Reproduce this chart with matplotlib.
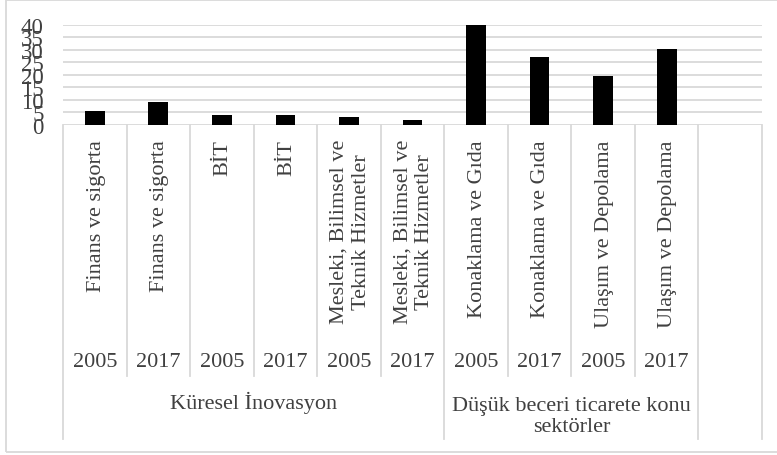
import matplotlib
matplotlib.use("Agg")
from matplotlib import pyplot as plt
from matplotlib import transforms
from matplotlib.patches import Rectangle

# Data
sectors = ["Finans ve sigorta", "Finans ve sigorta", "BİT", "BİT",
           "Mesleki, Bilimsel ve\nTeknik Hizmetler", "Mesleki, Bilimsel ve\nTeknik Hizmetler",
           "Konaklama ve Gıda", "Konaklama ve Gıda",
           "Ulaşım ve Depolama", "Ulaşım ve Depolama", ""]
years = ["2005", "2017", "2005", "2017", "2005", "2017",
         "2005", "2017", "2005", "2017", ""]
values = [5.7, 9.0, 3.8, 4.0, 3.0, 1.8, 39.8, 26.9, 19.4, 30.4, None]
groups = ["Küresel İnovasyon", "Düşük beceri ticarete konu\nsektörler", ""]
group_sizes = [6, 4, 1]
yticks = [0, 5, 10, 15, 20, 25, 30, 35, 40]

W, H = 777, 456
txt_color = "#404040"
line_color = "#d9d9d9"
plt.rcParams["font.family"] = ["Liberation Serif", "DejaVu Serif"]

fig = plt.figure(figsize=(W / 100, H / 100), dpi=100)

# plot area in pixels
left, right, top, bottom = 63, 762, 25.5, 126
ax = fig.add_axes([left / W, 1 - bottom / H, (right - left) / W, (bottom - top) / H])

n = len(sectors)
xs = list(range(n))
for x, v in zip(xs, values):
    if v is not None:
        ax.bar(x, v, width=0.31, color="black", zorder=3)

ax.set_xlim(-0.5, n - 0.5)
ax.set_ylim(0, 40)
ax.set_yticks(yticks)
ax.set_yticklabels([str(t) for t in yticks], fontsize=16.5, color=txt_color)
ax.tick_params(axis="y", length=0, pad=14)
ax.set_xticks([])
ax.grid(axis="y", color=line_color, linewidth=1.3, zorder=0)
for s in ax.spines.values():
    s.set_visible(False)

# x in data, y in figure fraction
tr = transforms.blended_transform_factory(ax.transData, fig.transFigure)
def fy(px):
    return 1 - px / H

# category table lines
short_end, long_end = 377, 440
group_edges = [0]
for g in group_sizes:
    group_edges.append(group_edges[-1] + g)
for i in range(n + 1):
    end = long_end if i in group_edges else short_end
    fig.add_artist(plt.Line2D([i - 0.5, i - 0.5], [fy(bottom), fy(end)],
                              transform=tr, color=line_color, linewidth=1.3))

# sector labels (rotated)
for x, lab in zip(xs, sectors):
    if lab:
        fig.text(x + 0.02, fy(140), lab, transform=tr, rotation=90, ha="center", va="top",
                 multialignment="center", fontsize=16, color=txt_color, linespacing=1.2)

# year labels
for x, yr in zip(xs, years):
    if yr:
        fig.text(x, fy(363), yr, transform=tr, ha="center", va="center",
                 fontsize=16, color=txt_color)

# group labels
for g, a, b in zip(groups, group_edges[:-1], group_edges[1:]):
    if g:
        cx = (a + b - 1) / 2
        cy = 403 if "\n" not in g else 417
        fig.text(cx, fy(cy), g, transform=tr, ha="center", va="center",
                 multialignment="center", fontsize=16, color=txt_color, linespacing=1.1)

# chart border
fig.add_artist(Rectangle((6 / W, 1 - 453 / H), (W + 10) / W, (453 - 1) / H,
                         transform=fig.transFigure, fill=False,
                         edgecolor=line_color, linewidth=1.3))

fig.savefig("out.png", dpi=100)
